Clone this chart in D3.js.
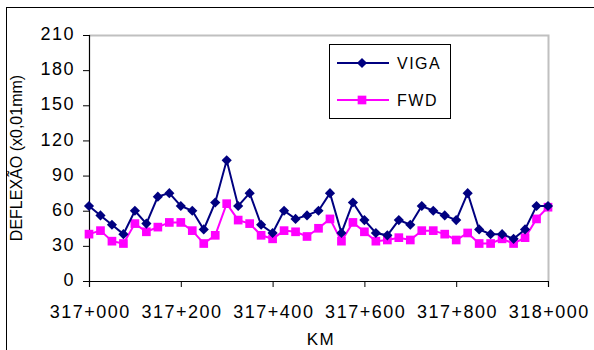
<!DOCTYPE html>
<html>
<head>
<meta charset="utf-8">
<script src="https://cdn.jsdelivr.net/npm/d3@7"></script>
<style>
  html, body { margin: 0; padding: 0; background: #fff; }
  svg { display: block; font-family: "Liberation Sans", Arial, sans-serif; }
</style>
</head>
<body>
<svg id="chart" width="594" height="350"></svg>
<script>
// Station offsets along the road (metres after km 317)
const stations = [0, 25, 50, 75, 100, 125, 150, 175, 200, 225, 250, 275, 300, 325, 350, 375, 400,
  425, 450, 475, 500, 525, 550, 575, 600, 625, 650, 675, 700, 725, 750, 775, 800,
  825, 850, 875, 900, 925, 950, 975, 1000];

// Deflection readings (x0,01 mm)
const viga = [64, 56, 48, 40, 60, 49, 72, 75, 64, 60, 44, 67, 103, 64, 75, 48, 41, 60, 53, 56,
  60, 75, 41, 67, 52, 41, 39, 52, 48, 64, 60, 56, 52, 75, 44, 40, 40, 36, 44, 64, 64];
const fwd = [40, 43, 34, 32, 49, 42, 46, 50, 50, 43, 32, 39, 66, 52, 49, 39, 36, 43, 42, 38,
  45, 53, 34, 50, 42, 34, 35, 37, 35, 43, 43, 40, 35, 41, 32, 32, 36, 32, 37, 53, 63];

// Axis ticks
const xTicks = [0, 200, 400, 600, 800, 1000];
const xTickLabels = ["317+000", "317+200", "317+400", "317+600", "317+800", "318+000"];
const yTicks = [0, 30, 60, 90, 120, 150, 180, 210];

const seriesList = [
  { name: "VIGA", values: viga, color: "#000080", marker: "diamond" },
  { name: "FWD", values: fwd, color: "#FF00FF", marker: "square" }
];

const svg = d3.select("#chart");
const plot = { left: 89, right: 548, top: 35, bottom: 281 };

const x = d3.scaleLinear().domain([0, 1000]).range([plot.left, plot.right]);
const y = d3.scaleLinear().domain([0, 210]).range([plot.bottom, plot.top]);

// Outer chart frame
svg.append("rect")
  .attr("x", 6.5).attr("y", 7.5)
  .attr("width", 620).attr("height", 400)
  .attr("fill", "none").attr("stroke", "#000").attr("stroke-width", 1);

// Plot area border (top and right edges in grey)
svg.append("path")
  .attr("d", `M${plot.left},${plot.top + 0.5}H${plot.right + 0.5}V${plot.bottom}`)
  .attr("fill", "none").attr("stroke", "#c0c0c0").attr("stroke-width", 2);

const labelFont = sel => sel
  .attr("font-size", 18)
  .attr("letter-spacing", 1.5)
  .attr("fill", "#000")
  .attr("font-family", "Liberation Sans, Arial, sans-serif");

// Y axis
const yAxis = svg.append("g")
  .attr("transform", `translate(${plot.left},0)`)
  .call(d3.axisLeft(y).tickValues(yTicks).tickSize(6).tickPadding(8));
yAxis.select(".domain").attr("stroke", "#000").attr("stroke-width", 1.2);
yAxis.selectAll(".tick line").attr("stroke", "#000");
yAxis.selectAll("text").call(labelFont).attr("dy", "0.26em");

// X axis
const xAxis = svg.append("g")
  .attr("transform", `translate(0,${plot.bottom})`)
  .call(d3.axisBottom(x).tickValues(xTicks)
    .tickFormat((d, i) => xTickLabels[i]).tickSize(6).tickPadding(18));
xAxis.select(".domain").attr("stroke", "#000").attr("stroke-width", 1.2);
xAxis.selectAll(".tick line").attr("stroke", "#000");
xAxis.selectAll("text").call(labelFont).attr("dx", "0.75");

// Axis titles
svg.append("text")
  .attr("x", 321).attr("y", 345)
  .attr("text-anchor", "middle")
  .call(labelFont)
  .attr("font-size", 17)
  .text("KM");

svg.append("text")
  .attr("transform", `translate(22,158) rotate(-90)`)
  .attr("text-anchor", "middle")
  .attr("font-size", 16).attr("fill", "#000")
  .text("DEFLEXÃO (x0,01mm)");

// Marker shapes
const diamond = d3.symbol().type(d3.symbolDiamond2).size(66);
const square = d3.symbol().type(d3.symbolSquare2).size(96);

const line = d3.line()
  .x((d, i) => x(stations[i]))
  .y(d => y(d));

// Draw FWD first so VIGA sits above it
[...seriesList].reverse().forEach(s => {
  const g = svg.append("g");
  g.append("path")
    .datum(s.values)
    .attr("d", line)
    .attr("fill", "none")
    .attr("stroke", s.color)
    .attr("stroke-width", 2);
  g.selectAll("path.mark")
    .data(s.values)
    .join("path")
    .attr("class", "mark")
    .attr("transform", (d, i) => `translate(${x(stations[i])},${y(d)})`)
    .attr("d", s.marker === "diamond" ? diamond() : square())
    .attr("fill", s.color);
});

// Legend
const legend = svg.append("g");
legend.append("rect")
  .attr("x", 329.5).attr("y", 44.5)
  .attr("width", 121).attr("height", 74)
  .attr("fill", "#fff").attr("stroke", "#000").attr("stroke-width", 1);

seriesList.forEach((s, i) => {
  const cy = 63 + i * 37;
  legend.append("line")
    .attr("x1", 337).attr("x2", 389)
    .attr("y1", cy).attr("y2", cy)
    .attr("stroke", s.color).attr("stroke-width", 2);
  legend.append("path")
    .attr("transform", `translate(362,${cy})`)
    .attr("d", s.marker === "diamond" ? diamond() : square())
    .attr("fill", s.color);
  legend.append("text")
    .attr("x", 397).attr("y", cy + 6)
    .attr("font-size", 16).attr("letter-spacing", 1.5).attr("fill", "#000")
    .text(s.name);
});
</script>
</body>
</html>
